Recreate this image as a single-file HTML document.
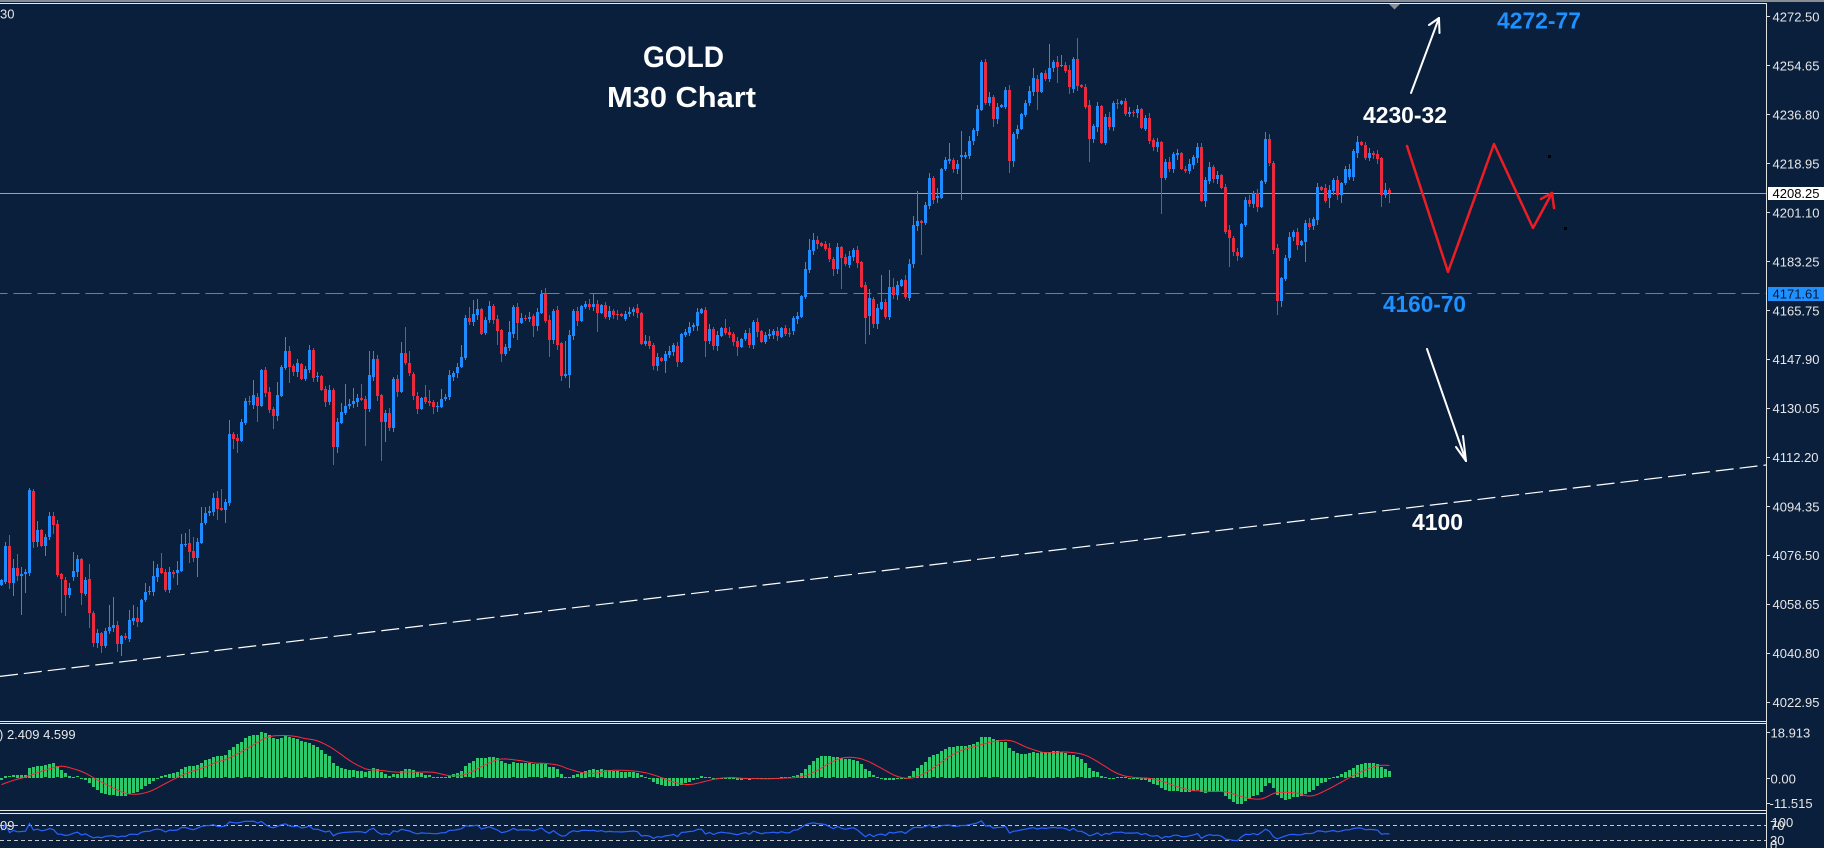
<!DOCTYPE html>
<html><head><meta charset="utf-8"><style>
html,body{margin:0;padding:0;background:#0a1f3c;overflow:hidden;width:1824px;height:848px}
svg{display:block}
text{font-family:"Liberation Sans",Arial,sans-serif}
</style></head><body>
<svg id="s" width="1824" height="848" viewBox="0 0 1824 848" xmlns="http://www.w3.org/2000/svg">
<rect width="1824" height="848" fill="#0a1f3c"/>
<rect width="1824" height="2" fill="#8a8d92"/>
<g shape-rendering="crispEdges">
<rect x="0" y="3" width="1767" height="1" fill="#e8e8e8"/>
<rect x="1766" y="3" width="1" height="845" fill="#e0e0e0"/>
<rect x="0" y="721" width="1766" height="1" fill="#e8e8e8"/>
<rect x="0" y="723" width="1766" height="1" fill="#e8e8e8"/>
<rect x="0" y="810" width="1766" height="1" fill="#e8e8e8"/>
<rect x="0" y="813" width="1766" height="1" fill="#e8e8e8"/>
<rect x="0" y="193" width="1766" height="1" fill="#9ba3ad"/>
<line x1="-10.5" y1="293.5" x2="1766" y2="293.5" stroke="#1e90ff" stroke-width="1" stroke-dasharray="18 6"/>
<line x1="0" y1="825.5" x2="1766" y2="825.5" stroke="#c8c8c8" stroke-width="1" stroke-dasharray="4 3"/>
<line x1="0" y1="840.5" x2="1766" y2="840.5" stroke="#c8c8c8" stroke-width="1" stroke-dasharray="4 3"/>
</g>
<line x1="0" y1="676.4" x2="1766" y2="465" stroke="#ffffff" stroke-width="1.2" stroke-dasharray="18 6"/>
<polygon points="1389,4 1400,4 1394.5,9.5" fill="#8a9098"/>
<g shape-rendering="crispEdges">
<path id="cb" fill="#1e8cff" d=""/>
<path id="cr" fill="#ea2a3e" d=""/>
<path id="mh" fill="#2dc86e" d=""/>
</g>
<path id="ms" fill="none" stroke="#ff2a3a" stroke-width="1" d=""/>
<path id="rl" fill="none" stroke="#2a62ff" stroke-width="1.2" d=""/>

<g fill="#e0e0e0" shape-rendering="crispEdges">
<rect x="1767" y="16" width="3" height="1"/><rect x="1767" y="65" width="3" height="1"/>
<rect x="1767" y="114" width="3" height="1"/><rect x="1767" y="163" width="3" height="1"/>
<rect x="1767" y="212" width="3" height="1"/><rect x="1767" y="261" width="3" height="1"/>
<rect x="1767" y="310" width="3" height="1"/><rect x="1767" y="359" width="3" height="1"/>
<rect x="1767" y="408" width="3" height="1"/><rect x="1767" y="457" width="3" height="1"/>
<rect x="1767" y="506" width="3" height="1"/><rect x="1767" y="555" width="3" height="1"/>
<rect x="1767" y="604" width="3" height="1"/><rect x="1767" y="653" width="3" height="1"/>
<rect x="1767" y="702" width="3" height="1"/>
<rect x="1767" y="732" width="3" height="1"/><rect x="1767" y="778" width="3" height="1"/>
<rect x="1767" y="803" width="3" height="1"/>
</g>
<rect x="1768" y="187" width="56" height="13" fill="#ffffff"/>
<rect x="1768" y="287" width="56" height="14" fill="#1e90ff"/>
<g font-size="13" fill="#e6e6e6">
<text x="1772.5" y="21.5">4272.50</text>
<text x="1772.5" y="70.5">4254.65</text>
<text x="1772.5" y="119.3">4236.80</text>
<text x="1772.5" y="168.3">4218.95</text>
<text x="1772.5" y="198" fill="#000">4208.25</text>
<text x="1772.5" y="217.3">4201.10</text>
<text x="1772.5" y="266.5">4183.25</text>
<text x="1772.5" y="298.3" fill="#0b1a33">4171.61</text>
<text x="1772.5" y="315.5">4165.75</text>
<text x="1772.5" y="364">4147.90</text>
<text x="1772.5" y="413">4130.05</text>
<text x="1772.5" y="462">4112.20</text>
<text x="1772.5" y="511.3">4094.35</text>
<text x="1772.5" y="559.8">4076.50</text>
<text x="1772.5" y="609">4058.65</text>
<text x="1772.5" y="658">4040.80</text>
<text x="1772.5" y="707">4022.95</text>
<text x="1770.5" y="737.5">18.913</text>
<text x="1770.5" y="783.5">0.00</text>
<text x="1769.5" y="808">-11.515</text>
<text x="1771.5" y="827">100</text>
<text x="1770" y="830">70</text>
<text x="1770" y="845">30</text>
<text x="1770" y="850">0</text>
<text x="0" y="18.5">30</text>
<text x="-1" y="739">) 2.409 4.599</text>
<text x="0" y="830">09</text>
</g>

<g font-weight="bold" fill="#ffffff">
<text x="643" y="67" font-size="30" textLength="81" lengthAdjust="spacingAndGlyphs">GOLD</text>
<text x="607" y="107" font-size="29" textLength="149" lengthAdjust="spacingAndGlyphs">M30 Chart</text>
<text x="1363" y="123" font-size="23" textLength="84" lengthAdjust="spacingAndGlyphs">4230-32</text>
<text x="1412" y="530" font-size="23" textLength="51" lengthAdjust="spacingAndGlyphs">4100</text>
</g>
<g font-weight="bold" fill="#1e90ff">
<text x="1497" y="28.5" font-size="23" textLength="84" lengthAdjust="spacingAndGlyphs">4272-77</text>
<text x="1383" y="312" font-size="23" textLength="83" lengthAdjust="spacingAndGlyphs">4160-70</text>
</g>

<g stroke="#ffffff" stroke-width="2" fill="none" stroke-linecap="round">
<line x1="1411" y1="93" x2="1439" y2="18"/>
<line x1="1439" y1="18" x2="1429" y2="25"/>
<line x1="1439" y1="18" x2="1439.5" y2="33"/>
<line x1="1427" y1="349" x2="1466" y2="461"/>
<line x1="1466" y1="461" x2="1456" y2="447"/>
<line x1="1466" y1="461" x2="1463" y2="436"/>
</g>
<g stroke="#ee1d23" stroke-width="2.5" fill="none" stroke-linecap="round" stroke-linejoin="round">
<polyline points="1407,146 1448,272 1494,144 1533,228 1552,193"/>
<line x1="1552" y1="193" x2="1541" y2="199"/>
<line x1="1552" y1="193" x2="1554" y2="208"/>
</g>
<rect x="1548" y="155" width="3" height="3" fill="#000"/>
<rect x="1564" y="227" width="3" height="3" fill="#000"/>
</svg>
<script>
(function(){
var D="b580,585 b546,582,h542 r546,583,h535,l589 b568,583,h559,l596 r568,576,h554 b574,576,h567,l615 b572,574,l593 b490,573,h488 r491,542,l548 b530,542,h521 "+
"r530,546 b537,546,l556 b516,537,h512 r516,525,h512,l534 r524,575,l577 r574,579,l613 r580,595,l616 b588,595 b571,577,h552 b559,572,h555 "+
"r559,593,l605 b580,594 r579,613,h564,l628 r613,643,l647 b633,643 r633,646,l653 b631,646 b627,631,h605 b625,628,h597 r625,644,l652 "+
"b636,644,l656 r636,638 b620,639,h610 b618,621,h605 r618,622,h607 b600,622 b592,600,h583 b591,592 b576,592,h561 b568,577 "+
"r568,573,h553 r572,590 b572,590 r572,574 b570,573,h561,l585 b544,571,h534 b544,545,h533 r543,552,h529,l563 r551,558,h537 b542,558,l577 "+
"b523,543,h507 b513,523,h507 b511,513 b498,512,h493 r498,509,h491,l520 r508,510,h489 b502,510,l523 b434,503,h420 r434,439,l449 r438,441,l453 "+
"b422,441,h419 b401,423,h398 r401,402 b395,405,h380 r397,406,l422 b370,406,h369 r370,393,l397 r392,410 r409,416,l429 b395,416,h382 "+
"b367,396,h365 b351,368,h337 r351,367,l383 r366,372 b363,372 r364,379 b369,379 b350,370 r350,378 b376,377 "+
"r376,390 r389,402,l407 b390,402 r390,447,l465 b422,447,l453 b412,423,h403 b406,413,h384 b404,406 b401,404,h388 b398,402 "+
"r398,400,h384 r399,409,l446 b375,409,h351 b359,377,h351 r359,396 r395,422,l461 b413,422,l442 r413,428 b379,428 r379,392 "+
"b353,392,h342 r353,363,h327 r363,373,h351 r374,396 r396,409 b398,409 r397,402,h385 r401,403,h390 r402,407,l414 b406,407 "+
"b399,407,h389 b397,399 b375,397,h370 b373,377 b367,373 b357,367,h345 b318,358 r318,322,h307 b314,322,h300 b309,315,h299 "+
"r309,334 b320,333 b306,320 r306,320 r319,331,l345 r330,354,l362 b347,354 b332,348,h321 b307,334 r307,323,l340 "+
"b318,323,h313 r318,319 b317,319 r316,326,l337 b312,326 b294,313,h290 r294,321,h288 r320,340,l357 b311,340 r310,345 "+
"r343,376,l381 b374,376,h341 b335,375,l388 b311,336 r311,321 b306,321 b304,307 r304,307 b304,307,h293 r304,313,l332 "+
"b305,313 r305,317 b311,317 r311,315 r314,315 r314,316 b314,319 b312,314 b309,312 r308,313 "+
"r313,344 b341,344,h335 r341,346 r345,366 b357,366 r358,361 b354,361,l373 b351,355 b345,352 r346,362 "+
"b334,362 b332,335 b327,333 b325,327 b312,326 b309,313 r310,341,l357 b329,341 r329,346 b335,346 "+
"b328,336 r328,333,h319 r332,335 r334,342 r341,347,l356 b339,347 b333,339 r333,345 b322,345 r322,332 "+
"r331,342 b335,342 b334,336 b331,335 r331,336 b328,337 r328,334 r333,334 b318,331 b316,319 "+
"b296,317 b269,297,h262 b250,270,h239 b240,251,h233 r240,244 r243,246 r244,249 r248,259 r259,269,l276 b247,269 "+
"r247,258,l289 r257,264 b256,265 b250,257 r250,263 r262,287 r285,318,l344 b298,316,h289,l335 r299,324 b308,324 "+
"b302,309,h275 r302,317 b287,317,h270 r287,295,h278 b285,295 b280,286 r280,297,h275 b264,298 b225,264,h216 b221,226,h191 "+
"r221,223,l255 b205,223 b178,206 r178,200 b196,198,h188,l203 b169,198 b160,169 b159,161,h143 r160,169 b164,169 "+
"b155,157,h131,l200 b155,157 b141,156 b130,141 b109,131 b62,110,h60 r62,103,h59 b97,103 r97,119,l127 b107,119 "+
"b105,107 b90,107 r90,161,l173 b134,161,l167 b129,134 b114,129 b103,115 b91,103 b78,92,h68 r79,92,l110 "+
"b73,92 r73,79 b68,79,h44 b62,68 r62,67,h56,l83 b65,66,h55 r65,71 r70,87,l94 b59,89 r59,86,h38 "+
"r85,87 r87,107 r105,139,l162 b126,139 b106,127 r106,143 b117,143 r117,127 b103,127 r103,104 "+
"b101,104 r101,114 b112,114 r112,113 b109,113 r109,128 b118,129 r118,141 r140,147 b142,147 "+
"r142,178,l214 b162,178 r162,169 b154,169 b153,155 r153,169 r169,171 b164,171 b157,165 b147,158 "+
"r147,201,h143 b180,201,l207 b167,181 r167,179 b175,179 r175,188 r187,232 r230,238,l267 r238,252 r252,256 "+
"b224,257 b200,225 r200,204 b193,204 r193,207 b181,207 b139,182,h132 r139,163,h134 r163,250 r248,301,l315 "+
"b278,301,l307 b258,279 b237,258 b232,237 r232,245 b241,245 b223,242,l262 r223,227 b219,226 b187,220 "+
"r187,190 r188,201,h184 b190,198,l208 b180,191 r180,195 b183,195,l203 b169,183 b169,177 b151,177 b142,153,h136 "+
"r142,145 r145,158 b153,158 r153,155 r154,159 r158,195,l207 b190,195,h183,l198 r190,193,h188,l203";
var C=D.trim().split(/\s+/).map(function(t,i){
  var p=t.slice(1).split(',');
  var c={t:t[0],tp:+p[0],bt:+p[1],hi:null,lo:null};
  for(var k=2;k<p.length;k++){if(p[k][0]=='h')c.hi=+p[k].slice(1);else c.lo=+p[k].slice(1);}
  if(c.hi===null)c.hi=c.tp-(1+(i*7)%5);
  if(c.lo===null)c.lo=c.bt+(1+(i*11)%5);
  if(c.hi>c.tp)c.hi=c.tp; if(c.lo<c.bt)c.lo=c.bt;
  return c;});
var bp='',rp='';
C.forEach(function(c,i){
  var x=4*i, h=Math.max(1,c.bt-c.tp);
  var s='M'+x+' '+c.tp+'h3v'+h+'h-3z'+'M'+(x+1)+' '+c.hi+'h1v'+Math.max(1,c.lo-c.hi)+'h-1z';
  if(c.t=='b')bp+=s; else rp+=s;});
document.getElementById('cb').setAttribute('d',bp);
document.getElementById('cr').setAttribute('d',rp);
var N=100,W=[];
for(var k=0;k<N;k++){var y;if(k<50)y=470;else if(k<80)y=470+(k-50)*5;else y=620-(k-80)*2;y+=4*Math.sin(k*1.7);W.push(y);}
var ys=W.concat(C.map(function(c){return c.t=='b'?c.tp:c.bt}));
var P=ys.map(function(y){return -y/2.745});
function ema(a,n){var k=2/(n+1),o=[],e=a[0];for(var i=0;i<a.length;i++){e=i?a[i]*k+e*(1-k):a[0];o.push(e)}return o}
var e12=ema(P,12),e26=ema(P,26);
var M=P.map(function(_,i){return e12[i]-e26[i]});
var S=M.map(function(_,i){var s=0,n=0;for(var j=Math.max(0,i-8);j<=i;j++){s+=M[j];n++}return s/n});
var Z=777.7,K=2.6,hp='',sl='';
for(var i=0;i<C.length;i++){
  var m=M[i+N],s=S[i+N];
  var yv=Z-m*K; yv=Math.max(725,Math.min(809,yv));
  var tp=Math.min(yv,Z),hh=Math.max(1,Math.abs(yv-Z));
  hp+='M'+(4*i)+' '+Math.round(tp)+'h3v'+Math.max(1,Math.round(hh))+'h-3z';
  var sy=Math.max(725,Math.min(809,Z-s*K));
  sl+=(i?'L':'M')+(4*i+1.5)+' '+sy.toFixed(1);}
document.getElementById('mh').setAttribute('d',hp);
document.getElementById('ms').setAttribute('d',sl);
var g=0,l=0,R=[];
for(var i=1;i<P.length;i++){var d=P[i]-P[i-1];var up=d>0?d:0,dn=d<0?-d:0;
  if(i<=14){g+=up/14;l+=dn/14}else{g=(g*13+up)/14;l=(l*13+dn)/14}
  R[i]=l==0?100:100-100/(1+g/l);}
var rl='';
for(var i=0;i<C.length;i++){var r=R[i+N];var yy=Math.max(814,Math.min(848,851.6-r*0.376));rl+=(i?'L':'M')+(4*i+1.5)+' '+yy.toFixed(1);}
document.getElementById('rl').setAttribute('d',rl);
})();
</script>
</body></html>
